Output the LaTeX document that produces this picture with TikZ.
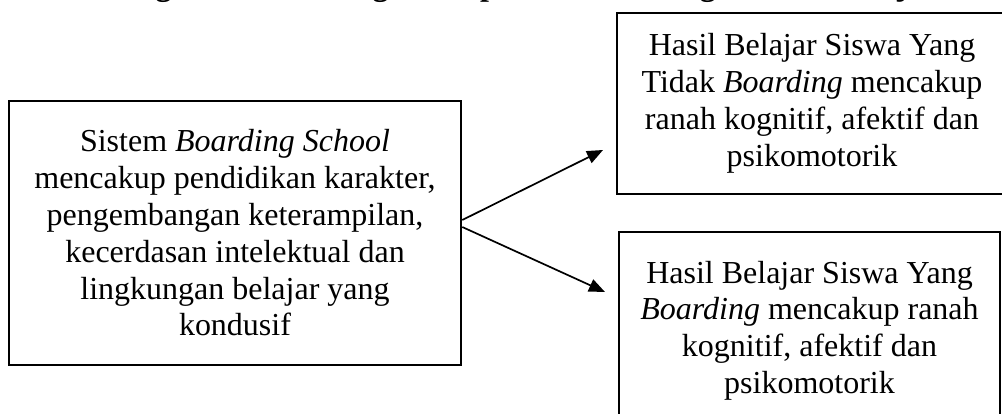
\documentclass[tikz,border=0pt]{standalone}
\usepackage{fontspec}
\setmainfont{Liberation Serif}
\usetikzlibrary{arrows.meta}
\begin{document}
\begin{tikzpicture}[x=0.5pt,y=-0.5pt,
  box/.style={draw, line width=1.3pt, align=center, inner sep=0pt,
    font=\fontsize{16}{18.4}\selectfont},
  arr/.style={line width=0.85pt, -{Triangle[length=8pt,width=6.5pt]}}]
\useasboundingbox (0,0) rectangle (1002,413);
\clip (0,0) rectangle (1002,413);
\node[anchor=base west, inner sep=0pt, font=\fontsize{16}{18.4}\selectfont\bfseries] (title) at (118,-4.5)
  {Bagan Alur Kerangka Berpikir Perbandingan Hasil Belajar Siswa};
\node[box, minimum width=226pt, minimum height=132pt] (L) at (235,233)
  {Sistem \textit{Boarding School}\\ mencakup pendidikan karakter,\\ pengembangan keterampilan,\\ kecerdasan intelektual dan\\ lingkungan belajar yang\\ kondusif};
\node[box, minimum width=195pt, minimum height=90.5pt] (T) at (812,103.5)
  {Hasil Belajar Siswa Yang\\ Tidak \textit{Boarding} mencakup\\ ranah kognitif, afektif dan\\ psikomotorik};
\node[box, minimum width=190.5pt, minimum height=98.5pt] (B) at (809.5,330.5)
  {Hasil Belajar Siswa Yang\\ \textit{Boarding} mencakup ranah\\ kognitif, afektif dan\\ psikomotorik};
\coordinate (s1) at ([yshift=6.5pt]L.east);
\coordinate (s2) at ([yshift=3pt]L.east);
\coordinate (e1) at (603,150);
\coordinate (e2) at (605,292);
\draw[arr] (s1) -- (e1);
\draw[arr] (s2) -- (e2);
\end{tikzpicture}
\end{document}
